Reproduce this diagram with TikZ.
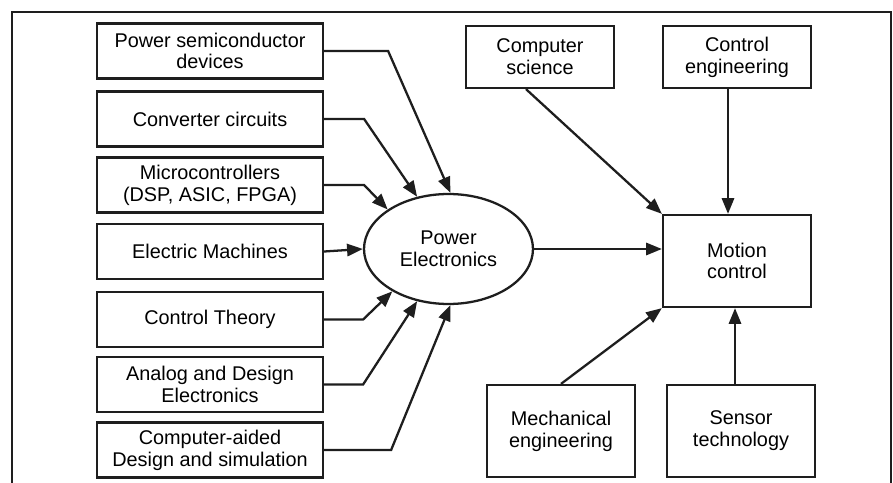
\documentclass[tikz,border=0pt]{standalone}
\usepackage{fontspec}
\setmainfont{Liberation Sans}
\usetikzlibrary{arrows.meta,shapes.geometric}
\begin{document}
\begin{tikzpicture}[x=0.02cm,y=-0.02cm]
	\definecolor{vien}{RGB}{30,30,30}
	\tikzset{
		hop/.style={draw=vien,line width=1.3pt,minimum width=4.52cm,minimum height=1.1cm,align=center,inner sep=1pt,font=\fontsize{11.3}{12.4}\selectfont},
		hoplon/.style={hop,minimum width=2.96cm,minimum height=1.84cm},
		muiten/.style={draw=vien,line width=1.3pt,-{Triangle[length=9pt,width=7pt]}}
	}
	\useasboundingbox (0,0) rectangle (893,483);
	%Khung
	\draw[vien,line width=1.3pt] (12,483) -- (12,12) -- (891,12) -- (891,483);
	
	%Cot trai
	\node[hop] (b1) at (210,51) {Power semiconductor\\devices};
	\node[hop] (b2) at (210,119) {Converter circuits};
	\node[hop] (b3) at (210,185) {Microcontrollers\\(DSP, ASIC, FPGA)};
	\node[hop] (b4) at (210,251.5) {Electric Machines};
	\node[hop] (b5) at (210,319.5) {Control Theory};
	\node[hop] (b6) at (210,384.5) {Analog and Design\\Electronics};
	\node[hop] (b7) at (210,450) {Computer-aided\\Design and simulation};
	
	%Elip
	\node[draw=vien,line width=1.3pt,ellipse,minimum width=3.38cm,minimum height=2.2cm,align=center,font=\fontsize{11.3}{12.4}\selectfont] (pe) at (448.5,249) {Power\\Electronics};
	
	\foreach \k/\dx/\goc in {
		1/64/88,
		2/40/121,
		3/40/147,
		4/0/180,
		5/39/217,
		6/39/239,
		7/67/272
	}{
		\draw[muiten] (b\k.east) -- ++(\dx,0) -- (pe.\goc);
	}
	
	%Ben phai
	\node[hoplon,minimum height=1.24cm] (cs) at (540,57) {Computer\\science};
	\node[hoplon,minimum height=1.24cm] (ce) at (737,57) {Control\\engineering};
	\node[hoplon] (mc) at (737,261) {Motion\\control};
	\node[hoplon] (me) at (561,431) {Mechanical\\engineering};
	\node[hoplon] (st) at (741,431) {Sensor\\technology};
	
	\draw[muiten] ([xshift=-0.28cm]cs.south) -- (mc.north west);
	\draw[muiten] ([xshift=-0.18cm]ce.south) -- ([xshift=-0.18cm]mc.north);
	\draw[muiten] (pe.east) -- (pe.east -| mc.west);
	\draw[muiten] (me.north) -- (mc.south west);
	\draw[muiten] ([xshift=-0.12cm]st.north) -- ([xshift=-0.12cm]st.north |- mc.south);
\end{tikzpicture}
\end{document}
